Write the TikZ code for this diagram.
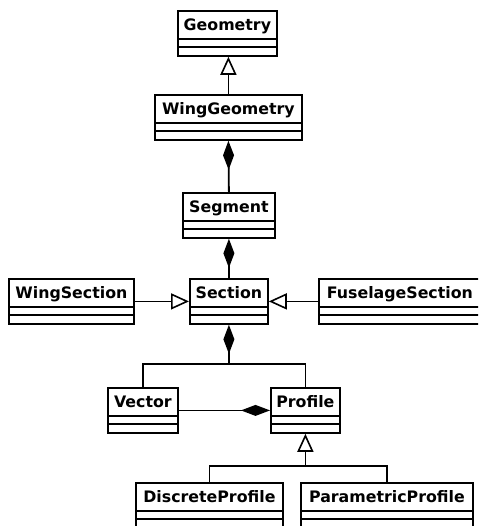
\documentclass[tikz,border=0pt]{standalone}
\usepackage{fontspec}
\newfontfamily\umlfont{DejaVu Sans}
\usetikzlibrary{arrows.meta,calc}
\tikzset{
  cls/.style={draw, line width=1.8pt, inner xsep=0pt, inner ysep=0pt,
    text height=20pt, text depth=25pt, anchor=north west, fill=white,
    font=\umlfont\bfseries\fontsize{15.8}{18}\selectfont},
  conn/.style={line width=1.8pt},
  inh/.style={conn, -{Triangle[open, length=18pt, width=16pt, line width=1.6pt]}},
  comp/.style={conn, {Diamond[length=29pt, width=11pt]}-},
}
\begin{document}
\begin{tikzpicture}[x=1pt,y=1pt]
\path[use as bounding box] (0,0) rectangle (478,-526);
\clip (0,0) rectangle (478,-526);
% classes
\node[cls, minimum width=99pt]  (geo)  at (177,-10)  {Geometry};
\node[cls, minimum width=147pt] (wg)   at (154,-94)  {WingGeometry};
\node[cls, minimum width=92pt]  (seg)  at (182,-192) {Segment};
\node[cls, minimum width=78pt]  (sec)  at (189,-278) {Section};
\node[cls, minimum width=125pt] (ws)   at (8,-278)   {WingSection};
\node[cls, minimum width=162pt] (fs)   at (318,-278) {FuselageSection};
\node[cls, minimum width=70pt]  (vec)  at (107,-387) {Vector};
\node[cls, minimum width=69pt]  (prof) at (270,-387) {Profile};
\node[cls, minimum width=147pt] (dp)   at (135,-482) {DiscreteProfile};
\node[cls, minimum width=172pt] (pp)   at (300,-482) {ParametricProfile};
% compartments
\foreach \n in {geo,wg,seg,sec,ws,fs,vec,prof,dp,pp}{
  \draw[conn] ($(\n.north west)+(0,-29)$) -- ($(\n.north east)+(0,-29)$);
  \draw[conn] ($(\n.north west)+(0,-37)$) -- ($(\n.north east)+(0,-37)$);
}
% connectors
\draw[inh] (wg.north) -- (wg.north |- geo.south);
\draw[comp] (wg.south) -- (seg.north);
\draw[comp] (seg.south) -- (sec.north);
\draw[inh] (ws.east) -- (sec.west);
\draw[inh] (fs.west) -- (sec.east);
\coordinate (split) at ($(sec.south)+(0,-39)$);
\draw[comp] (sec.south) -- (split);
\draw[conn] (vec.north) |- (split) -| (prof.north);
\draw[comp] (prof.west) -- (vec.east);
\coordinate (split2) at ($(prof.south)+(0,-32)$);
\draw[inh] (split2) -- (prof.south);
\draw[conn] (dp.north) |- (split2) -| (pp.north);
\end{tikzpicture}
\end{document}
